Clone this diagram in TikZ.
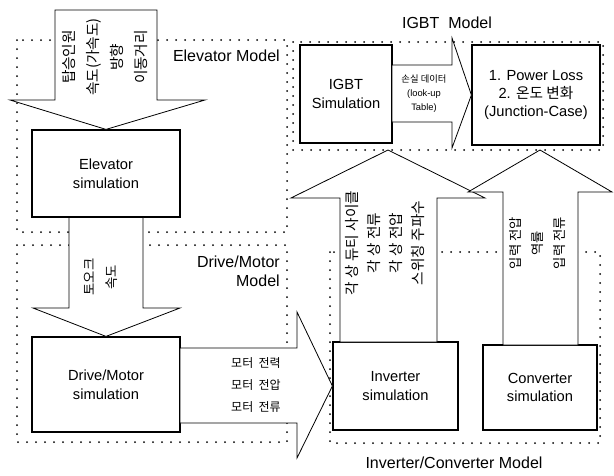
\documentclass[tikz,border=0pt]{standalone}
\usepackage{fontspec}
\setmainfont{Liberation Sans}
\newfontfamily\kr{Noto Sans CJK KR}
\usetikzlibrary{positioning}

\begin{document}
\begin{tikzpicture}[x=0.75pt, y=-0.75pt,
  simbox/.style={draw, line width=0.9pt, fill=white, align=center, inner sep=0pt, font=\fontsize{11}{14}\selectfont},
  frame/.style={line width=1.5pt, dash pattern=on 0pt off 6.75pt, line cap=round},
  blockarrow/.style={draw, fill=white, line width=0.6pt, line join=miter},
  modellabel/.style={inner sep=0pt, font=\fontsize{12}{14}\selectfont},
  vtext/.style={rotate=90, align=center, inner sep=0pt}
]
  \useasboundingbox (0,0) rectangle (614,475);

  % model frames
  \draw[frame] (17,40) rectangle (287,232);
  \draw[frame] (17,245) rectangle (287,442);
  \draw[frame] (293,42) rectangle (603,150);
  \draw[frame] (330,252) rectangle (600,443);

  % simulation blocks
  \node[simbox, minimum width=111pt, minimum height=65.25pt] (elev) at (106,173.5) {Elevator\\simulation};
  \node[simbox, minimum width=111pt, minimum height=71.25pt] (drive) at (106,384.5) {Drive/Motor\\simulation};
  \node[simbox, minimum width=93.75pt, minimum height=66pt] (inv) at (395.5,386) {Inverter\\simulation};
  \node[simbox, minimum width=85.5pt, minimum height=63.75pt] (conv) at (540,387.5) {Converter\\simulation};
  \node[simbox, minimum width=69pt, minimum height=73.5pt] (igbt) at (346,94) {IGBT\\Simulation};
  \node[simbox, minimum width=96pt, minimum height=75pt, font=\fontsize{11}{13.5}\selectfont] (loss) at (536,95) {1. Power Loss\\2. {\kr 온도 변화}\\(Junction-Case)};

  \coordinate (invtip) at (388,150);
  \coordinate (convtip) at (540,150);

  % block arrows
  \filldraw[blockarrow] (55,10) -- (157,10) -- (157,100) -- (205,100) -- (elev.north) -- (10,100) -- (55,100) -- cycle;
  \filldraw[blockarrow] (69,217.5) -- (143,217.5) -- (143,308) -- (180,308) -- (drive.north) -- (33,308) -- (69,308) -- cycle;
  \filldraw[blockarrow] (180,348) -- (297,348) -- (297,312) -- (inv.west) -- (297,458) -- (297,423) -- (180,423) -- cycle;
  \filldraw[blockarrow] (340,342) -- (340,198) -- (291,198) -- (invtip) -- (485,198) -- (437,198) -- (437,342) -- cycle;
  \filldraw[blockarrow] (503,345) -- (503,192) -- (468,192) -- (convtip) -- (612,192) -- (578,192) -- (578,345) -- cycle;
  \filldraw[blockarrow] (392,65) -- (452,65) -- (452,38) -- (loss.west) -- (452,148) -- (452,122) -- (392,122) -- cycle;

  % arrow texts
  \node[vtext, font=\kr\fontsize{11}{15}\selectfont] (elevin) at (105,57) {탑승인원\\[3pt]속도(가속도)\\[3pt]방향\\[3pt]이동거리};
  \node[vtext, font=\kr\fontsize{10}{17}\selectfont] (drivein) at (101,277) {토오크\\속도};
  \node[align=center, font=\kr\fontsize{9}{16.5}\selectfont] (motorout) at (256,385) {모터\ \ 전력\\모터\ \ 전압\\모터\ \ 전류};
  \node[vtext, font=\kr\fontsize{11}{16.5}\selectfont] (invout) at (385,243) {각 상 듀티 사이클\\각 상 전류\\각 상 전압\\스위칭 주파수};
  \node[vtext, font=\kr\fontsize{10}{16.5}\selectfont] (convout) at (538,243) {입력 전압\\역률\\입력 전류};
  \node[align=center, font=\fontsize{7}{10.5}\selectfont] (lut) at (424,94) {{\kr 손실 데이터}\\(look-up\\Table)};

  % model labels
  \node[modellabel, anchor=east] (elevlabel) at (280,56) {Elevator Model};
  \node[modellabel, anchor=east, align=right] (drivelabel) at (280,271) {Drive/Motor\\Model};
  \node[modellabel] (igbtlabel) at (447,23) {IGBT\ \ Model};
  \node[modellabel] (invlabel) at (454,463) {Inverter/Converter Model};
\end{tikzpicture}
\end{document}
